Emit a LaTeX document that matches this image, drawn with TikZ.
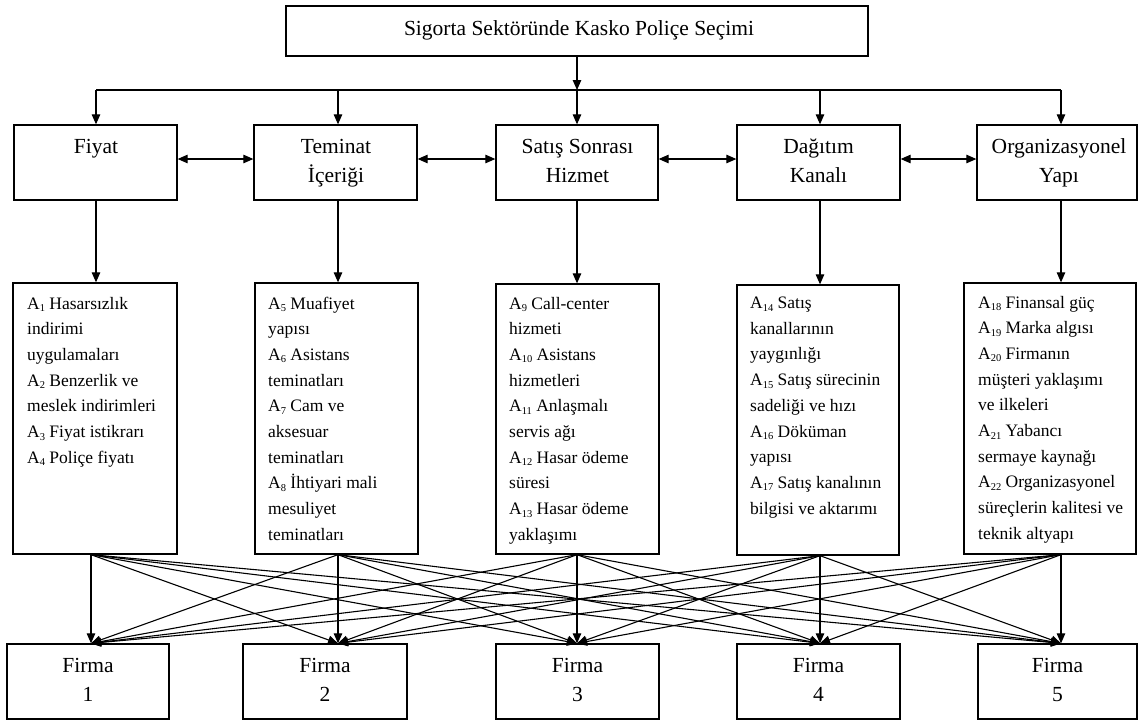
\documentclass[tikz,border=0pt]{standalone}
\usepackage{fontspec}
\setmainfont{Liberation Serif}
\usetikzlibrary{arrows.meta}
\newcommand\bigf{\fontsize{21.5}{29}\selectfont}
\newcommand\smf{\fontsize{17.5}{25.7}\selectfont}
\newcommand\Ai[1]{A\raisebox{-2.5pt}{\fontsize{10.5}{10.5}\selectfont #1}}
\newcommand\dtext[1]{\begin{minipage}[t]{165pt}\raggedright\smf #1\end{minipage}}
\newcommand\ctext[1]{\begin{minipage}[t]{160pt}\centering\bigf #1\end{minipage}}
\begin{document}
\begin{tikzpicture}[x=1pt,y=-1pt,
  box/.style={draw, line width=1.3pt, inner sep=0pt},
  arr/.style={line width=1.1pt, -{Triangle[length=10pt,width=8.5pt]}},
  darr/.style={line width=1.1pt, {Triangle[length=10pt,width=8.5pt]}-{Triangle[length=10pt,width=8.5pt]}},
  plainline/.style={line width=1.1pt},
  txt/.style={inner sep=0pt, anchor=base},
  ltxt/.style={inner sep=0pt, anchor=base west}]
\useasboundingbox (0,0) rectangle (1138,724);

% top box
\node[box, minimum width=582pt, minimum height=50pt] (T) at (577,31) {};
\node[txt] (Tt) at (579,35) {\bigf Sigorta Sektöründe Kasko Poliçe Seçimi};

% criteria boxes
\node[box, minimum width=163pt, minimum height=75pt] (C1) at (95.5,162.5) {};
\node[box, minimum width=163pt, minimum height=75pt] (C2) at (335.5,162.5) {};
\node[box, minimum width=162pt, minimum height=75pt] (C3) at (577,162.5) {};
\node[box, minimum width=163pt, minimum height=75pt] (C4) at (818.5,162.5) {};
\node[box, minimum width=160pt, minimum height=75pt] (C5) at (1057,162.5) {};
\node[txt] (C1t) at (96,153) {\ctext{Fiyat}};
\node[txt] (C2t) at (336,153) {\ctext{Teminat\\İçeriği}};
\node[txt] (C3t) at (577.5,153) {\ctext{Satış Sonrası\\Hizmet}};
\node[txt] (C4t) at (818.5,153) {\ctext{Dağıtım\\Kanalı}};
\node[txt] (C5t) at (1059,153) {\ctext{Organizasyonel\\Yapı}};

% detail boxes
\node[box, minimum width=164pt, minimum height=271pt] (D1) at (95,418.5) {};
\node[box, minimum width=163pt, minimum height=271pt] (D2) at (336.5,418.5) {};
\node[box, minimum width=163pt, minimum height=270pt] (D3) at (577.5,419) {};
\node[box, minimum width=162pt, minimum height=270pt] (D4) at (818,420) {};
\node[box, minimum width=172pt, minimum height=271pt] (D5) at (1050,418.5) {};
\node[ltxt] (D1t) at (27,309) {\dtext{\Ai{1} Hasarsızlık\\indirimi\\uygulamaları\\\Ai{2} Benzerlik ve\\meslek indirimleri\\\Ai{3} Fiyat istikrarı\\\Ai{4} Poliçe fiyatı}};
\node[ltxt] (D2t) at (268,309) {\dtext{\Ai{5} Muafiyet\\yapısı\\\Ai{6} Asistans\\teminatları\\\Ai{7} Cam ve\\aksesuar\\teminatları\\\Ai{8} İhtiyari mali\\mesuliyet\\teminatları}};
\node[ltxt] (D3t) at (509,309) {\dtext{\Ai{9} Call-center\\hizmeti\\\Ai{10} Asistans\\hizmetleri\\\Ai{11} Anlaşmalı\\servis ağı\\\Ai{12} Hasar ödeme\\süresi\\\Ai{13} Hasar ödeme\\yaklaşımı}};
\node[ltxt] (D4t) at (750,308.5) {\dtext{\Ai{14} Satış\\kanallarının\\yaygınlığı\\\Ai{15} Satış sürecinin\\sadeliği ve hızı\\\Ai{16} Döküman\\yapısı\\\Ai{17} Satış kanalının\\bilgisi ve aktarımı}};
\node[ltxt] (D5t) at (978,308) {\dtext{\Ai{18} Finansal güç\\\Ai{19} Marka algısı\\\Ai{20} Firmanın\\müşteri yaklaşımı\\ve ilkeleri\\\Ai{21} Yabancı\\sermaye kaynağı\\\Ai{22} Organizasyonel\\süreçlerin kalitesi ve\\teknik altyapı}};

% firm boxes
\node[box, minimum width=162pt, minimum height=75pt] (F1) at (88,681.5) {};
\node[box, minimum width=164pt, minimum height=75pt] (F2) at (325,681.5) {};
\node[box, minimum width=163pt, minimum height=75pt] (F3) at (577.5,681.5) {};
\node[box, minimum width=163pt, minimum height=75pt] (F4) at (818.5,681.5) {};
\node[box, minimum width=159pt, minimum height=75pt] (F5) at (1057.5,681.5) {};
\node[txt] (F1t) at (88,672) {\ctext{Firma\\1}};
\node[txt] (F2t) at (325,672) {\ctext{Firma\\2}};
\node[txt] (F3t) at (577.5,672) {\ctext{Firma\\3}};
\node[txt] (F4t) at (818.5,672) {\ctext{Firma\\4}};
\node[txt] (F5t) at (1057.5,672) {\ctext{Firma\\5}};

% bus
\coordinate (b1) at (96,90);
\coordinate (b2) at (338,90);
\coordinate (b3) at (577,90);
\coordinate (b4) at (820,90);
\coordinate (b5) at (1061,90);
\draw[arr] (T.south) -- (b3);
\draw[plainline] (b1) -- (b5);
\foreach \k in {1,...,5} {
  \draw[arr] (b\k) -- (b\k |- C\k.north);
  \draw[arr] (b\k |- C\k.south) -- (b\k |- D\k.north);
}

% double arrows between criteria
\draw[darr] ([yshift=3.5pt]C1.east) -- ([yshift=3.5pt]C2.west);
\draw[darr] ([yshift=3.5pt]C2.east) -- ([yshift=3.5pt]C3.west);
\draw[darr] ([yshift=3.5pt]C3.east) -- ([yshift=3.5pt]C4.west);
\draw[darr] ([yshift=3.5pt]C4.east) -- ([yshift=3.5pt]C5.west);

% detail -> firm connectors
\coordinate (x1) at (91,0);
\coordinate (x2) at (338,0);
\coordinate (x3) at (577,0);
\coordinate (x4) at (820,0);
\coordinate (x5) at (1061,0);
\foreach \k in {1,...,5} {
  \coordinate (o\k) at (x\k |- D\k.south);
  \coordinate (i\k) at (x\k |- F\k.north);
}
\foreach \a in {1,...,5} {
  \foreach \b in {1,...,5} {
    \draw[arr] (o\a) -- (i\b);
  }
}
\end{tikzpicture}
\end{document}
